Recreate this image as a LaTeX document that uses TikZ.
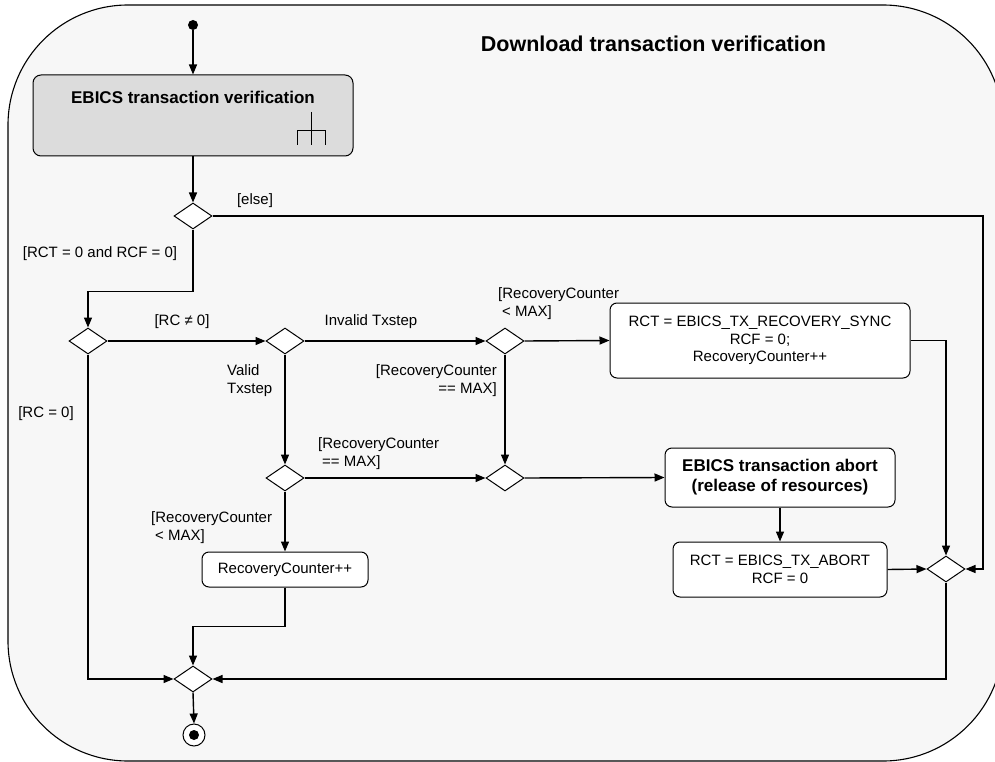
\documentclass[tikz,border=0pt]{standalone}
\usepackage{fontspec}
\setmainfont{Liberation Sans}
\usetikzlibrary{shapes.geometric,arrows.meta}
\definecolor{framebg}{HTML}{F7F7F7}
\definecolor{vergray}{HTML}{DCDCDC}
\begin{document}
\begin{tikzpicture}[x=1pt,y=-1pt,
  conn/.style={line width=1.4pt,-{Triangle[length=10pt,width=8pt]}},
  plain/.style={line width=1.4pt},
  act/.style={draw,line width=1pt,rounded corners=7pt,fill=white,align=center,inner sep=0pt,font=\fontsize{15}{17.5}\selectfont},
  dec/.style={diamond,draw,fill=white,line width=1pt,minimum width=38pt,minimum height=26pt,inner sep=0pt},
  lab/.style={font=\fontsize{15}{18}\selectfont,inner sep=0pt,align=left},
  boldtxt/.style={font=\fontsize{17}{20}\selectfont\bfseries,inner sep=0pt,align=center}]
\useasboundingbox (0,0) rectangle (995,762);
\begin{scope}
  \clip (0,0) rectangle (995,762);
  \draw[fill=framebg,line width=1.1pt,rounded corners=120pt] (8,5) rectangle (1003,761);
\end{scope}
\node[font=\fontsize{21.5}{24}\selectfont\bfseries,inner sep=0pt] (title) at (653.5,44) {Download transaction verification};

% nodes
\node[circle,fill=black,inner sep=0pt,minimum size=10pt] (start) at (193,25) {};
\node[draw,line width=1pt,rounded corners=8pt,fill=vergray,minimum width=320pt,minimum height=81pt,inner sep=0pt] (ver) at (193,115.5) {};
\node[boldtxt] (vertxt) at (193,97) {EBICS transaction verification};
\draw[line width=1pt] (311,112) -- (311,145) (297,145) -- (297,131) -- (325,131) -- (325,145);

\node[dec] (d1) at (193,216) {};
\node[dec] (d2) at (88,341) {};
\node[dec] (d3) at (285,341) {};
\node[dec] (d4) at (505,341) {};
\node[dec] (d5) at (285,478) {};
\node[dec] (d6) at (505,478) {};
\node[dec] (dR) at (946,569) {};
\node[dec] (df) at (193,679) {};

\node[act,minimum width=300pt,minimum height=75pt] (sync) at (760,340.5) {RCT = EBICS\_TX\_RECOVERY\_SYNC\\RCF = 0;\\RecoveryCounter++};
\node[act,minimum width=230pt,minimum height=59pt,font=\fontsize{17}{20}\selectfont\bfseries] (ab1) at (780,477.5) {EBICS transaction abort\\(release of resources)};
\node[act,minimum width=214pt,minimum height=55pt] (ab2) at (780,569.5) {RCT = EBICS\_TX\_ABORT\\RCF = 0};
\node[act,minimum width=166pt,minimum height=35pt] (rc) at (285,569.5) {RecoveryCounter++};

\node[circle,draw,line width=1pt,fill=white,minimum size=22pt,inner sep=0pt] (end) at (194,735) {};
\node[circle,fill=black,minimum size=10pt,inner sep=0pt] (enddot) at (end.center) {};

\coordinate (r1) at (983,569);

% connectors
\draw[conn] (start) -- (ver.north);
\draw[conn] (ver.south) -- (d1.north);
\draw[conn] (d1.east) -| (r1) -- (dR.east);
\draw[conn] (d1.south) -- ++(0,62) -| (d2.north);
\draw[conn] (d2.east) -- (d3.west);
\draw[conn] (d3.east) -- (d4.west);
\draw[conn] (d4.east) -- (sync.west);
\draw[conn] (sync.east) -| (dR.north);
\draw[conn] (d4.south) -- (d6.north);
\draw[conn] (d3.south) -- (d5.north);
\draw[conn] (d5.east) -- (d6.west);
\draw[conn] (d6.east) -- (ab1.west);
\draw[conn] (ab1.south) -- (ab2.north);
\draw[conn] (ab2.east) -- (dR.west);
\draw[conn] (d5.south) -- (rc.north);
\draw[conn] (rc.south) -- ++(0,39) -| (df.north);
\draw[conn] (d2.south) |- (df.west);
\draw[conn] (dR.south) |- (df.east);
\draw[conn] (df.south) -- (end.north);

% labels
\node[lab] (lelse) at (255,201) {[else]};
\node[lab] (lrct) at (100,254) {[RCT = 0 and RCF = 0]};
\node[lab] (lrcne) at (182,322) {[RC ≠ 0]};
\node[lab] (linv) at (371,322) {Invalid Txstep};
\node[lab,anchor=west] (lrclt1) at (498,304) {[RecoveryCounter\\\hspace*{4pt}< MAX]};
\node[lab,anchor=east,align=right] (lrceq1) at (497,381) {[RecoveryCounter\\== MAX]};
\node[lab,anchor=west] (lvalid) at (227,381) {Valid\\Txstep};
\node[lab,anchor=west] (lrceq2) at (318,454) {[RecoveryCounter\\\hspace*{4pt}== MAX]};
\node[lab] (lrc0) at (46,414) {[RC = 0]};
\node[lab,anchor=west] (lrclt2) at (151,527.5) {[RecoveryCounter\\\hspace*{4pt}< MAX]};
\end{tikzpicture}
\end{document}
